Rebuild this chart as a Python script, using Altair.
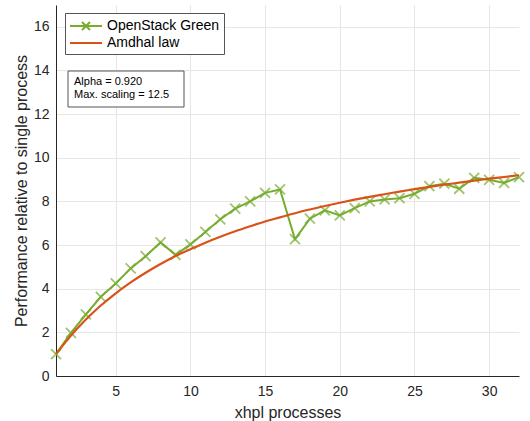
import altair as alt
import pandas as pd

processes = list(range(1, 33))
openstack_green = [1.0, 1.98, 2.82, 3.63, 4.24, 4.93, 5.49, 6.12, 5.55, 6.03,
                   6.6, 7.18, 7.67, 8.0, 8.39, 8.55, 6.27, 7.21, 7.59, 7.36,
                   7.69, 8.0, 8.09, 8.15, 8.35, 8.7, 8.81, 8.58, 9.08, 8.99, 8.85, 9.11]
amdahl_law = [1.0, 1.85, 2.59, 3.23, 3.79, 4.29, 4.73, 5.13, 5.5, 5.81,
              6.11, 6.38, 6.63, 6.86, 7.08, 7.27, 7.46, 7.63, 7.79, 7.94,
              8.08, 8.21, 8.33, 8.45, 8.56, 8.67, 8.77, 8.86, 8.95, 9.04, 9.12, 9.2]
series_names = ["OpenStack Green", "Amdhal law"]
series_colors = ["#77AC30", "#D95319"]
annotation_lines = ["Alpha = 0.920", "Max. scaling = 12.5"]
x_ticks = [5, 10, 15, 20, 25, 30]
y_ticks = [0, 2, 4, 6, 8, 10, 12, 14, 16]

FONT = "Liberation Sans"

df = pd.DataFrame({
    "n": processes * 2,
    "value": openstack_green + amdahl_law,
    "series": [series_names[0]] * len(processes) + [series_names[1]] * len(processes),
})

x_enc = alt.X("n:Q", scale=alt.Scale(domain=[1, 32], nice=False, zero=False),
              axis=alt.Axis(values=x_ticks, title="xhpl processes"))
y_enc = alt.Y("value:Q", scale=alt.Scale(domain=[0, 17], nice=False),
              axis=alt.Axis(values=y_ticks, title="Performance relative to single process"))
color_scale = alt.Scale(domain=series_names, range=series_colors)

base = alt.Chart(df)

legend = alt.Legend(
    orient="none", legendX=9, legendY=8, title=None,
    fillColor="white", strokeColor="#555555", padding=4,
    labelFont=FONT, labelFontSize=14, labelColor="#000000",
    symbolSize=256, symbolStrokeWidth=2, rowPadding=0, labelOffset=20,
    symbolOpacity=1,
)
legend_layer = base.mark_point(filled=False, opacity=0).encode(
    x=x_enc, y=y_enc,
    color=alt.Color("series:N", scale=color_scale, legend=legend),
    shape=alt.Shape("series:N", scale=alt.Scale(
        domain=series_names,
        range=["M-1,0L3,0M0.5,-0.5L1.5,0.5M0.5,0.5L1.5,-0.5", "M-1,0L3,0"]),
        legend=legend),
)

green_line = base.transform_filter(alt.datum.series == series_names[0]).mark_line(
    strokeWidth=2).encode(x=x_enc, y=y_enc,
                          color=alt.Color("series:N", scale=color_scale, legend=None))
green_pts = base.transform_filter(alt.datum.series == series_names[0]).mark_point(
    shape="M-1,-1L1,1M-1,1L1,-1", size=100, filled=False, strokeWidth=1.8).encode(
    x=x_enc, y=y_enc, color=alt.Color("series:N", scale=color_scale, legend=None))
amdahl_line = base.transform_filter(alt.datum.series == series_names[1]).mark_line(
    strokeWidth=2.2, interpolate="monotone").encode(
    x=x_enc, y=y_enc, color=alt.Color("series:N", scale=color_scale, legend=None))

box = alt.Chart(pd.DataFrame({"k": [0]})).mark_rect(
    fill="white", stroke="#555555", strokeWidth=1).encode(
    x=alt.value(12), x2=alt.value(128), y=alt.value(66), y2=alt.value(102))
texts = []
for i, line in enumerate(annotation_lines):
    texts.append(alt.Chart(pd.DataFrame({"t": [line]})).mark_text(
        align="left", baseline="middle", font=FONT, fontSize=11, color="#000000").encode(
        x=alt.value(18), y=alt.value(77 + 13 * i), text="t:N"))

chart = alt.layer(legend_layer, green_line, green_pts, amdahl_line, box, *texts).properties(
    width=463, height=371, autosize="none",
    padding={"left": 56, "top": 5, "right": 11, "bottom": 45},
).configure_view(strokeWidth=0).configure_axis(
    labelFont=FONT, titleFont=FONT, labelFontSize=14, titleFontSize=16,
    labelColor="#262626", titleColor="#262626", titleFontWeight="normal",
    domainColor="#262626", domainWidth=1, ticks=False,
    gridColor="#e6e6e6", gridWidth=1,
).configure_axisX(labelPadding=8, titlePadding=6).configure_axisY(labelPadding=7, titlePadding=4)

chart.save("out.html", embed_options={"renderer": "svg", "actions": False})
